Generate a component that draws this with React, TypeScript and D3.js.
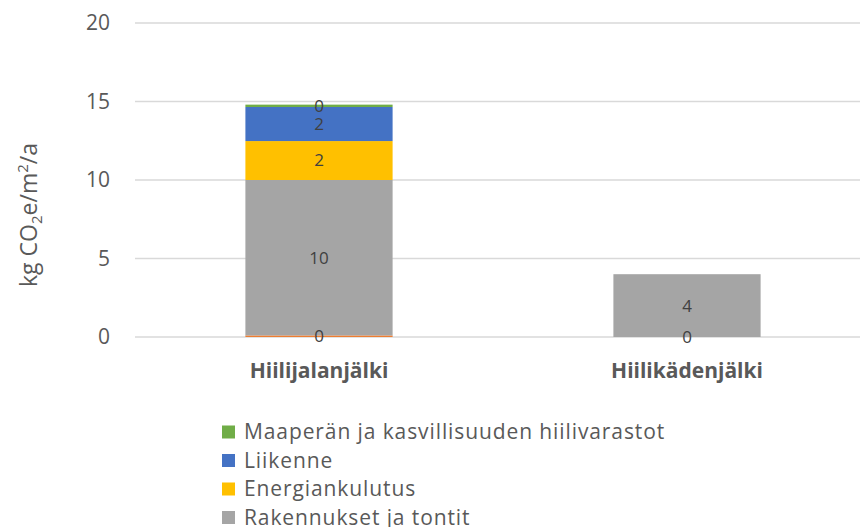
import * as React from "react";
import * as d3 from "d3";

const categories = ["Hiilijalanjälki", "Hiilikädenjälki"];
// bottom to top
const seriesNames = [
  "Purku",
  "Rakennukset ja tontit",
  "Energiankulutus",
  "Liikenne",
  "Maaperän ja kasvillisuuden hiilivarastot",
];
const orangeValues = [0.1, 0];
const grayValues = [9.9, 4];
const yellowValues = [2.48, 0];
const blueValues = [2.17, 0];
const greenValues = [0.15, 0];
const seriesColors = ["#ED7D31", "#A5A5A5", "#FFC000", "#4472C4", "#70AD47"];
const yTicks = [0, 5, 10, 15, 20];
// legend as shown (top to bottom)
const legendIdx = [4, 3, 2, 1];

export default function App() {
  const ref = React.useRef<SVGSVGElement>(null);

  const draw = () => {
    const svg = d3.select(ref.current);
    svg.selectAll("*").remove();

    const font = "'Open Sans', sans-serif";
    const textColor = "#595959";

    const x = d3.scaleBand().domain(categories).range([135, 871]).padding(0);
    const y = d3.scaleLinear().domain([0, 20]).range([337, 23]);
    const barWidth = x.bandwidth() * 0.4;

    // grid
    svg
      .append("g")
      .selectAll("line")
      .data(yTicks)
      .enter()
      .append("line")
      .attr("x1", 135)
      .attr("x2", 860)
      .attr("y1", (d) => y(d))
      .attr("y2", (d) => y(d))
      .attr("stroke", "#D9D9D9")
      .attr("stroke-width", 1.3);

    svg
      .append("g")
      .selectAll("text")
      .data(yTicks)
      .enter()
      .append("text")
      .attr("x", 110)
      .attr("y", (d) => y(d))
      .attr("dy", "0.35em")
      .attr("text-anchor", "end")
      .attr("font-family", font)
      .attr("font-size", 21)
      .attr("fill", textColor)
      .text((d) => d);

    // stacked data
    const all = [orangeValues, grayValues, yellowValues, blueValues, greenValues];
    const rows = categories.map((c, i) => {
      const r: any = { cat: c };
      seriesNames.forEach((s, j) => (r[s] = all[j][i]));
      return r;
    });
    const stacked = d3.stack().keys(seriesNames)(rows);

    stacked.forEach((layer, j) => {
      const g = svg.append("g");
      g.selectAll("rect")
        .data(layer)
        .enter()
        .append("rect")
        .attr("x", (d: any) => x(d.data.cat)! + x.bandwidth() / 2 - barWidth / 2)
        .attr("y", (d) => y(d[1]))
        .attr("width", barWidth)
        .attr("height", (d) => y(d[0]) - y(d[1]))
        .attr("fill", seriesColors[j]);
    });

    // data labels
    stacked.forEach((layer, j) => {
      svg
        .append("g")
        .selectAll("text")
        .data(layer.filter((d: any) => j === 0 || d.data[seriesNames[j]] > 0))
        .enter()
        .append("text")
        .attr("x", (d: any) => x(d.data.cat)! + x.bandwidth() / 2)
        .attr("y", (d) => y((d[0] + d[1]) / 2))
        .attr("dy", "0.35em")
        .attr("text-anchor", "middle")
        .attr("font-family", font)
        .attr("font-size", 17)
        .attr("fill", "#404040")
        .text((d: any) => Math.round(d.data[seriesNames[j]]));
    });

    // category labels
    svg
      .append("g")
      .selectAll("text")
      .data(categories)
      .enter()
      .append("text")
      .attr("x", (d) => x(d)! + x.bandwidth() / 2)
      .attr("y", 371)
      .attr("dy", "0.35em")
      .attr("text-anchor", "middle")
      .attr("font-family", font)
      .attr("font-weight", "bold")
      .attr("font-size", 21)
      .attr("fill", textColor)
      .text((d) => d);

    // y axis title
    const title = svg
      .append("text")
      .attr("transform", "translate(37,215) rotate(-90)")
      .attr("text-anchor", "middle")
      .attr("font-family", font)
      .attr("font-size", 23)
      .attr("fill", textColor);
    title.append("tspan").text("kg CO");
    title.append("tspan").attr("font-size", 15).attr("dy", 5).text("2");
    title.append("tspan").attr("dy", -5).text("e/m");
    title.append("tspan").attr("font-size", 15).attr("dy", -9).text("2");
    title.append("tspan").attr("dy", 9).text("/a");

    // legend
    const leg = svg
      .append("g")
      .selectAll("g")
      .data(legendIdx)
      .enter()
      .append("g")
      .attr("transform", (d, i) => "translate(222," + (432 + i * 28.5) + ")");
    leg
      .append("rect")
      .attr("x", 0)
      .attr("y", -6.5)
      .attr("width", 13)
      .attr("height", 13)
      .attr("fill", (d) => seriesColors[d]);
    leg
      .append("text")
      .attr("x", 22)
      .attr("y", 0)
      .attr("dy", "0.35em")
      .attr("font-family", font)
      .attr("font-size", 21)
      .attr("letter-spacing", 0.9)
      .attr("fill", textColor)
      .text((d) => seriesNames[d]);
  };

  React.useEffect(() => {
    draw();
  }, []);

  return (
    <div style={{ position: "absolute", left: 0, top: 0 }}>
      <svg ref={ref} width={860} height={527} style={{ display: "block" }} />
    </div>
  );
}
